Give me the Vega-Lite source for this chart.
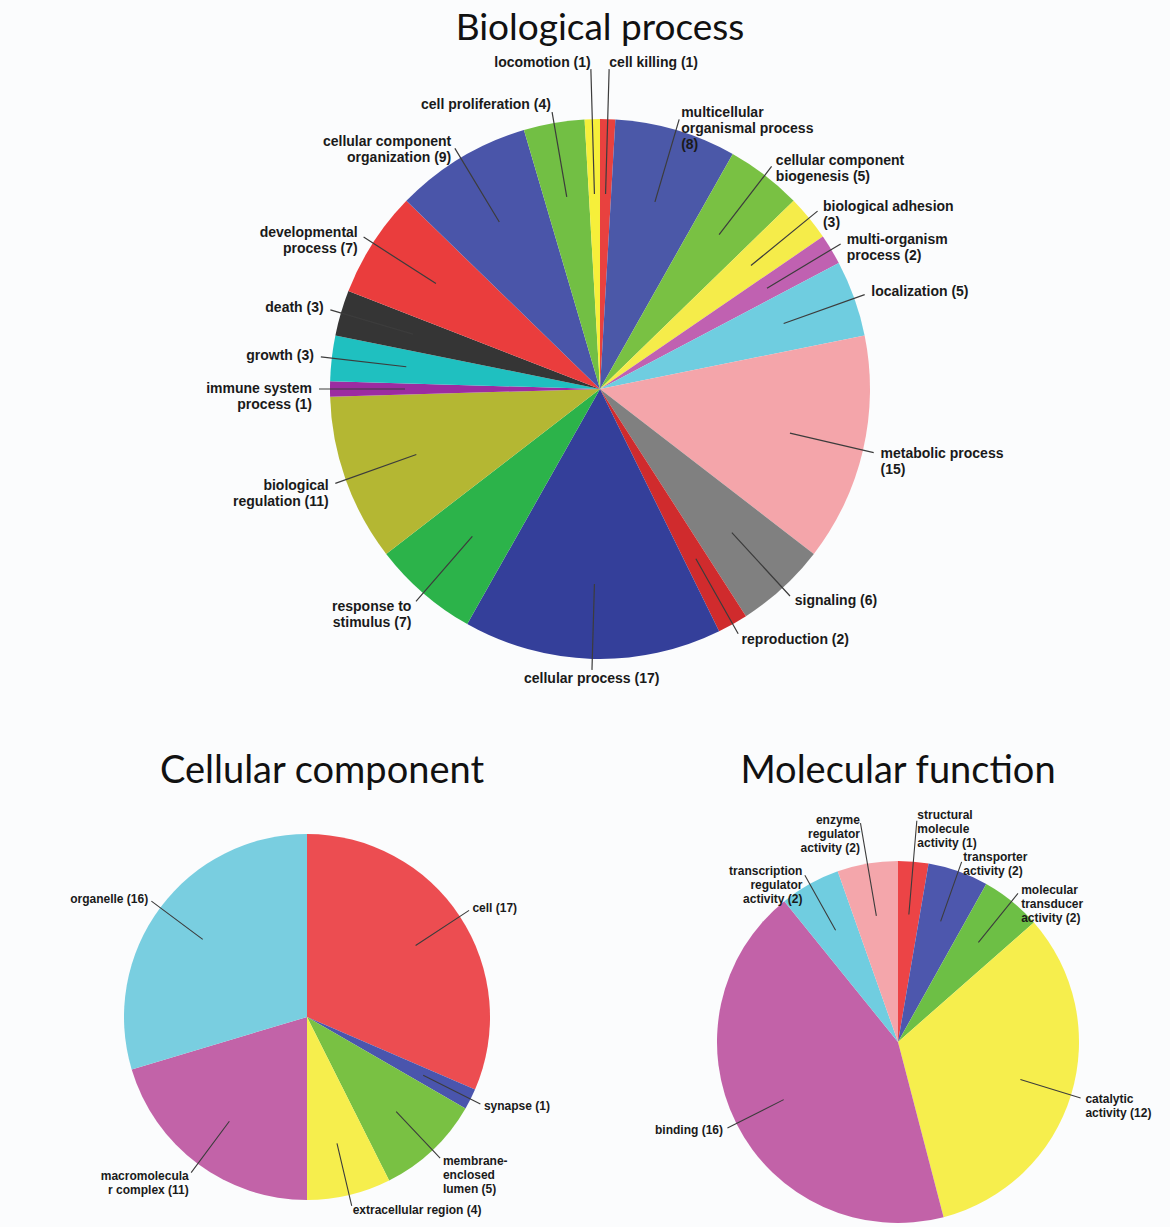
{
  "$schema": "https://vega.github.io/schema/vega-lite/v6.json",
  "background": "#fbfcfd",
  "padding": {"left": 27, "top": 10, "right": 0, "bottom": 0},
  "config": {
    "view": {"stroke": null},
    "title": {"font": "Lato", "fontSize": 38, "fontWeight": "normal", "color": "#111111", "offset": 6},
    "text": {"font": "Liberation Sans", "fontWeight": "bold", "color": "#1a1a1a", "lineBreak": "\n", "baseline": "middle"}
  },
  "resolve": {"scale": {"color": "independent", "theta": "independent"}},
  "spacing": 29,
  "vconcat": [
    {
      "width": 1146,
      "height": 670,
      "title": {"text": "Biological process", "fontSize": 37},
      "data": {"values": [
        {"idx": 1, "cat": "cell killing", "n": 1, "label": "cell killing (1)"},
        {"idx": 2, "cat": "multicellular organismal process", "n": 8, "label": "multicellular\norganismal process\n(8)"},
        {"idx": 3, "cat": "cellular component biogenesis", "n": 5, "label": "cellular component\nbiogenesis (5)"},
        {"idx": 4, "cat": "biological adhesion", "n": 3, "label": "biological adhesion\n(3)"},
        {"idx": 5, "cat": "multi-organism process", "n": 2, "label": "multi-organism\nprocess (2)"},
        {"idx": 6, "cat": "localization", "n": 5, "label": "localization (5)"},
        {"idx": 7, "cat": "metabolic process", "n": 15, "label": "metabolic process\n(15)"},
        {"idx": 8, "cat": "signaling", "n": 6, "label": "signaling (6)"},
        {"idx": 9, "cat": "reproduction", "n": 2, "label": "reproduction (2)"},
        {"idx": 10, "cat": "cellular process", "n": 17, "label": "cellular process (17)"},
        {"idx": 11, "cat": "response to stimulus", "n": 7, "label": "response to\nstimulus (7)"},
        {"idx": 12, "cat": "biological regulation", "n": 11, "label": "biological\nregulation (11)"},
        {"idx": 13, "cat": "immune system process", "n": 1, "label": "immune system\nprocess (1)"},
        {"idx": 14, "cat": "growth", "n": 3, "label": "growth (3)"},
        {"idx": 15, "cat": "death", "n": 3, "label": "death (3)"},
        {"idx": 16, "cat": "developmental process", "n": 7, "label": "developmental\nprocess (7)"},
        {"idx": 17, "cat": "cellular component organization", "n": 9, "label": "cellular component\norganization (9)"},
        {"idx": 18, "cat": "cell proliferation", "n": 4, "label": "cell proliferation (4)"},
        {"idx": 19, "cat": "locomotion", "n": 1, "label": "locomotion (1)"}
      ]},
      "encoding": {
        "theta": {"field": "n", "type": "quantitative", "stack": true},
        "order": {"field": "idx", "type": "quantitative"},
        "detail": {"field": "cat", "type": "nominal"}
      },
      "layer": [
        {
          "mark": {"type": "arc", "outerRadius": 270},
          "encoding": {"color": {"field": "cat", "type": "nominal", "legend": null,
            "scale": {
              "domain": ["cell killing", "multicellular organismal process", "cellular component biogenesis", "biological adhesion", "multi-organism process", "localization", "metabolic process", "signaling", "reproduction", "cellular process", "response to stimulus", "biological regulation", "immune system process", "growth", "death", "developmental process", "cellular component organization", "cell proliferation", "locomotion"],
              "range": ["#e8413f", "#4b58a8", "#79c143", "#f5ec4a", "#c061b1", "#6fcde0", "#f4a5aa", "#808080", "#d02b2d", "#343f9a", "#2cb34a", "#b4b733", "#9c2ca1", "#1fc0c0", "#353535", "#ea3d3d", "#4a55a9", "#72bf44", "#f6ef3a"]
            }}}
        },
        {
          "mark": {"type": "arc", "innerRadius": 195, "outerRadius": 281, "padAngle": 3, "filled": false, "stroke": "#3c3c3c", "strokeWidth": 1.2},
          "encoding": {"strokeOpacity": {"condition": {"test": "datum.idx >= 2 && datum.idx <= 18", "value": 1}, "value": 0}}
        },
        {
          "mark": {"type": "arc", "innerRadius": 195, "outerRadius": 320, "padAngle": 3, "filled": false, "stroke": "#3c3c3c", "strokeWidth": 1.2},
          "encoding": {"strokeOpacity": {"condition": {"test": "datum.idx == 1 || datum.idx == 19", "value": 1}, "value": 0}}
        },
        {
          "mark": {"type": "text", "radius": 288, "align": "left", "fontSize": 14, "lineHeight": 16},
          "encoding": {"text": {"condition": {"test": "datum.idx >= 2 && datum.idx <= 9", "field": "label"}, "value": ""}}
        },
        {
          "mark": {"type": "text", "radius": 288, "align": "right", "fontSize": 14, "lineHeight": 16},
          "encoding": {"text": {"condition": {"test": "datum.idx >= 11 && datum.idx <= 18", "field": "label"}, "value": ""}}
        },
        {
          "mark": {"type": "text", "radius": 290, "align": "center", "fontSize": 14, "lineHeight": 16},
          "encoding": {"text": {"condition": {"test": "datum.idx == 10", "field": "label"}, "value": ""}}
        },
        {
          "mark": {"type": "text", "radius": 326, "align": "left", "fontSize": 14, "lineHeight": 16},
          "encoding": {"text": {"condition": {"test": "datum.idx == 1", "field": "label"}, "value": ""}}
        },
        {
          "mark": {"type": "text", "radius": 326, "align": "right", "fontSize": 14, "lineHeight": 16},
          "encoding": {"text": {"condition": {"test": "datum.idx == 19", "field": "label"}, "value": ""}}
        }
      ]
    },
    {
      "hconcat": [
        {
          "width": 560,
          "height": 440,
          "title": {"text": "Cellular component", "dx": 15},
          "data": {"values": [
            {"idx": 1, "cat": "cell", "n": 17, "label": "cell (17)"},
            {"idx": 2, "cat": "synapse", "n": 1, "label": "synapse (1)"},
            {"idx": 3, "cat": "membrane-enclosed lumen", "n": 5, "label": "membrane-\nenclosed\nlumen (5)"},
            {"idx": 4, "cat": "extracellular region", "n": 4, "label": "extracellular region (4)"},
            {"idx": 5, "cat": "macromolecular complex", "n": 11, "label": "macromolecula\nr complex (11)"},
            {"idx": 6, "cat": "organelle", "n": 16, "label": "organelle (16)"}
          ]},
          "encoding": {
            "theta": {"field": "n", "type": "quantitative", "stack": true},
            "order": {"field": "idx", "type": "quantitative"},
            "detail": {"field": "cat", "type": "nominal"}
          },
          "layer": [
            {
              "mark": {"type": "arc", "outerRadius": 183},
              "encoding": {"color": {"field": "cat", "type": "nominal", "legend": null,
                "scale": {
                  "domain": ["cell", "synapse", "membrane-enclosed lumen", "extracellular region", "macromolecular complex", "organelle"],
                  "range": ["#ec4d51", "#4a55ad", "#79c143", "#f6ee4d", "#c263a8", "#79cee0"]
                }}}
            },
            {
              "mark": {"type": "arc", "innerRadius": 130, "outerRadius": 194, "padAngle": 3, "filled": false, "stroke": "#3c3c3c", "strokeWidth": 1.1},
              "encoding": {}
            },
            {
              "mark": {"type": "text", "radius": 198, "align": "left", "fontSize": 12, "lineHeight": 14},
              "encoding": {"text": {"condition": {"test": "datum.idx <= 4", "field": "label"}, "value": ""}}
            },
            {
              "mark": {"type": "text", "radius": 198, "align": "right", "fontSize": 12, "lineHeight": 14},
              "encoding": {"text": {"condition": {"test": "datum.idx >= 5", "field": "label"}, "value": ""}}
            }
          ]
        },
        {
          "width": 540,
          "height": 490,
          "title": {"text": "Molecular function"},
          "data": {"values": [
            {"idx": 1, "cat": "structural molecule activity", "n": 1, "label": "structural\nmolecule\nactivity (1)"},
            {"idx": 2, "cat": "transporter activity", "n": 2, "label": "transporter\nactivity (2)"},
            {"idx": 3, "cat": "molecular transducer activity", "n": 2, "label": "molecular\ntransducer\nactivity (2)"},
            {"idx": 4, "cat": "catalytic activity", "n": 12, "label": "catalytic\nactivity (12)"},
            {"idx": 5, "cat": "binding", "n": 16, "label": "binding (16)"},
            {"idx": 6, "cat": "transcription regulator activity", "n": 2, "label": "transcription\nregulator\nactivity (2)"},
            {"idx": 7, "cat": "enzyme regulator activity", "n": 2, "label": "enzyme\nregulator\nactivity (2)"}
          ]},
          "encoding": {
            "theta": {"field": "n", "type": "quantitative", "stack": true},
            "order": {"field": "idx", "type": "quantitative"},
            "detail": {"field": "cat", "type": "nominal"}
          },
          "layer": [
            {
              "mark": {"type": "arc", "outerRadius": 181},
              "encoding": {"color": {"field": "cat", "type": "nominal", "legend": null,
                "scale": {
                  "domain": ["structural molecule activity", "transporter activity", "molecular transducer activity", "catalytic activity", "binding", "transcription regulator activity", "enzyme regulator activity"],
                  "range": ["#ec4446", "#4d57ad", "#6dbf45", "#f6ee4d", "#c262a8", "#70cde0", "#f4a6ab"]
                }}}
            },
            {
              "mark": {"type": "arc", "innerRadius": 128, "outerRadius": 191, "padAngle": 3, "filled": false, "stroke": "#3c3c3c", "strokeWidth": 1.1},
              "encoding": {"strokeOpacity": {"condition": {"test": "datum.idx >= 2 && datum.idx <= 6", "value": 1}, "value": 0}}
            },
            {
              "mark": {"type": "arc", "innerRadius": 128, "outerRadius": 222, "padAngle": 3, "filled": false, "stroke": "#3c3c3c", "strokeWidth": 1.1},
              "encoding": {"strokeOpacity": {"condition": {"test": "datum.idx == 1 || datum.idx == 7", "value": 1}, "value": 0}}
            },
            {
              "mark": {"type": "text", "radius": 196, "align": "left", "fontSize": 12, "lineHeight": 14},
              "encoding": {"text": {"condition": {"test": "datum.idx >= 2 && datum.idx <= 4", "field": "label"}, "value": ""}}
            },
            {
              "mark": {"type": "text", "radius": 196, "align": "right", "fontSize": 12, "lineHeight": 14},
              "encoding": {"text": {"condition": {"test": "datum.idx == 5 || datum.idx == 6", "field": "label"}, "value": ""}}
            },
            {
              "mark": {"type": "text", "radius": 228, "align": "left", "fontSize": 12, "lineHeight": 14},
              "encoding": {"text": {"condition": {"test": "datum.idx == 1", "field": "label"}, "value": ""}}
            },
            {
              "mark": {"type": "text", "radius": 225, "align": "right", "fontSize": 12, "lineHeight": 14},
              "encoding": {"text": {"condition": {"test": "datum.idx == 7", "field": "label"}, "value": ""}}
            }
          ]
        }
      ],
      "spacing": 41,
      "resolve": {"scale": {"color": "independent", "theta": "independent"}}
    }
  ]
}
